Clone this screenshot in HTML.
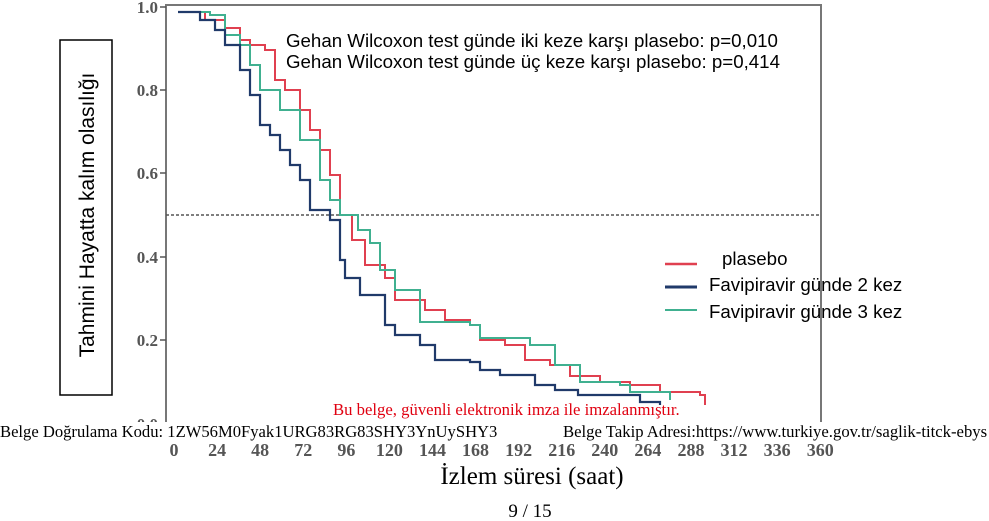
<!DOCTYPE html>
<html><head><meta charset="utf-8"><style>
body{margin:0;background:#fff;width:989px;height:521px;overflow:hidden;}
svg{display:block}
.s{font-family:"Liberation Sans",sans-serif;}
.r{font-family:"Liberation Serif",serif;}
</style></head><body>
<svg width="989" height="521" xmlns="http://www.w3.org/2000/svg">
<rect x="166" y="5" width="655" height="424" fill="none" stroke="#777" stroke-width="2"/>
<line x1="166" y1="215" x2="821" y2="215" stroke="#555" stroke-width="1.5" stroke-dasharray="3,2"/>
<g class="r" font-weight="bold" font-size="17" fill="#555" text-anchor="end">
<text x="158" y="13">1.0</text><text x="158" y="96">0.8</text><text x="158" y="179">0.6</text>
<text x="158" y="263">0.4</text><text x="158" y="346">0.2</text><text x="158" y="430">0.0</text>
</g>
<g stroke="#555" stroke-width="1.5"><line x1="160" y1="7" x2="166" y2="7"/><line x1="160" y1="90" x2="166" y2="90"/><line x1="160" y1="173" x2="166" y2="173"/><line x1="160" y1="257" x2="166" y2="257"/><line x1="160" y1="340" x2="166" y2="340"/></g>
<g class="r" font-weight="bold" font-size="18" fill="#555" text-anchor="middle" id="xt"></g>
<rect x="60" y="40" width="52" height="355" fill="none" stroke="#000" stroke-width="1.5"/>
<text class="s" font-size="21" transform="translate(94,215) rotate(-90)" text-anchor="middle">Tahmini Hayatta kalım olasılığı</text>
<text class="s" font-size="18.7" x="286" y="47">Gehan Wilcoxon test günde iki keze karşı plasebo: p=0,010</text>
<text class="s" font-size="18.7" x="286" y="68">Gehan Wilcoxon test günde üç keze karşı plasebo: p=0,414</text>
<g id="curves" fill="none"></g>
<line x1="665" y1="264" x2="697" y2="264" stroke="#e04050" stroke-width="2.5"/>
<line x1="665" y1="287" x2="697" y2="287" stroke="#203a6a" stroke-width="3"/>
<line x1="665" y1="310" x2="697" y2="310" stroke="#40b090" stroke-width="2"/>
<g class="s" font-size="18.7"><text x="722" y="265">plasebo</text><text x="709" y="291">Favipiravir günde 2 kez</text><text x="709" y="318">Favipiravir günde 3 kez</text></g>
<rect x="0" y="422" width="989" height="18" fill="#fff"/>
<text class="r" font-size="16.7" fill="#e00010" x="333" y="415">Bu belge, güvenli elektronik imza ile imzalanmıştır.</text>
<text class="r" font-size="16.6" x="0" y="437">Belge Doğrulama Kodu: 1ZW56M0Fyak1URG83RG83SHY3YnUySHY3</text>
<text class="r" font-size="16.7" x="563" y="437">Belge Takip Adresi:https://www.turkiye.gov.tr/saglik-titck-ebys</text>
<text class="r" font-size="25" x="532" y="484" text-anchor="middle">İzlem süresi (saat)</text>
<text class="r" font-size="19" x="530" y="517" text-anchor="middle">9 / 15</text>
</svg>
<script>
var xt=document.getElementById('xt');
for(var h=0;h<=360;h+=24){var t=document.createElementNS('http://www.w3.org/2000/svg','text');t.setAttribute('x',174+h*1.795);t.setAttribute('y',456);t.textContent=h;xt.appendChild(t);}
function step(p){var d='M'+p[0][0]+' '+p[0][1];for(var i=1;i<p.length;i++){d+=' H'+p[i][0]+' V'+p[i][1];}return d;}
var S=[
['#e04050',2,[[178,12],[205,12],[205,20],[225,28],[240,40],[250,45],[265,50],[275,80],[285,90],[300,110],[310,130],[320,150],[330,175],[340,215],[352,240],[365,265],[385,278],[395,300],[425,310],[445,320],[470,325],[480,340],[505,345],[525,360],[550,365],[570,376],[600,382],[630,385],[660,392],[700,395],[705,405]]],
['#40b090',2,[[178,12],[210,15],[225,35],[240,45],[250,65],[260,90],[280,110],[300,140],[320,180],[330,200],[340,215],[358,230],[370,243],[380,270],[395,290],[420,322],[470,325],[480,338],[510,338],[530,345],[555,365],[580,382],[620,385],[630,392],[660,392],[670,400]]],
['#203a6a',2.2,[[178,12],[200,20],[215,30],[225,45],[240,70],[250,95],[260,125],[270,135],[280,150],[290,165],[300,180],[310,210],[330,220],[340,260],[345,278],[360,295],[385,325],[395,335],[420,345],[435,360],[470,362],[480,370],[500,375],[535,385],[555,390],[578,395],[640,402],[660,405]]]];
var g=document.getElementById('curves');
S.forEach(function(s){var p=document.createElementNS('http://www.w3.org/2000/svg','path');p.setAttribute('d',step(s[2]));p.setAttribute('stroke',s[0]);p.setAttribute('stroke-width',s[1]);g.appendChild(p);});
</script>
</body></html>
